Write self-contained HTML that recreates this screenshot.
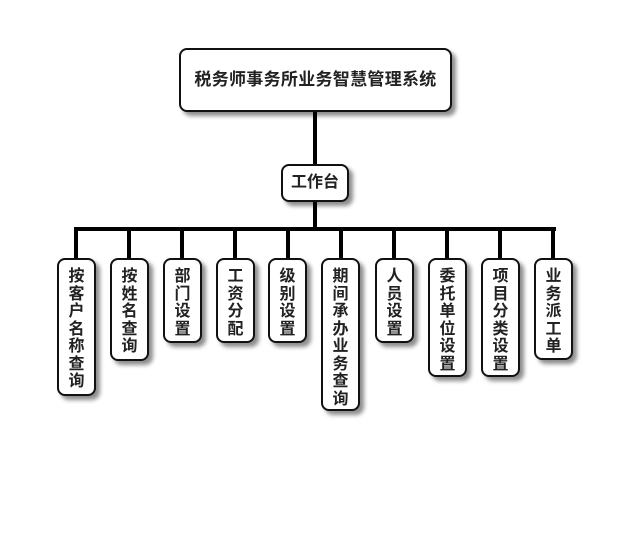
<!DOCTYPE html>
<html><head><meta charset="utf-8"><style>
body{margin:0;width:630px;height:560px;background:#fff;position:relative;overflow:hidden;font-family:"Liberation Sans","Noto Sans CJK SC",sans-serif;font-weight:bold;color:#222}
.b{position:absolute;border:2px solid #111;border-radius:8px;background:#fff;box-shadow:4px 4px 4px rgba(0,0,0,.45);box-sizing:border-box;text-align:center}
.l{position:absolute;background:#000}
.v{width:39px;top:258px;font-size:16px;line-height:17.5px;padding-top:8px;word-break:break-all}
.v span{display:block;width:18px;margin:0 auto}
</style></head><body>
<div class="l" style="left:313px;top:112px;width:4px;height:52px"></div>
<div class="l" style="left:313px;top:202px;width:4px;height:27px"></div>
<div class="l" style="left:74px;top:227px;width:482px;height:4px"></div>
<div class="l" style="left:74px;top:227px;width:4px;height:31px"></div>
<div class="l" style="left:127px;top:227px;width:4px;height:31px"></div>
<div class="l" style="left:180px;top:227px;width:4px;height:31px"></div>
<div class="l" style="left:233px;top:227px;width:4px;height:31px"></div>
<div class="l" style="left:286px;top:227px;width:4px;height:31px"></div>
<div class="l" style="left:339px;top:227px;width:4px;height:31px"></div>
<div class="l" style="left:392px;top:227px;width:4px;height:31px"></div>
<div class="l" style="left:445px;top:227px;width:4px;height:31px"></div>
<div class="l" style="left:498px;top:227px;width:4px;height:31px"></div>
<div class="l" style="left:551px;top:227px;width:4px;height:31px"></div>
<div class="b" style="left:179px;top:48px;width:273px;height:64px;line-height:60px;font-size:17px;letter-spacing:0.3px">税务师事务所业务智慧管理系统</div>
<div class="b" style="left:281px;top:164px;width:68px;height:38px;line-height:34px;font-size:16px">工作台</div>
<div class="b v" style="left:57px;height:138px"><span>按客户名称查询</span></div>
<div class="b v" style="left:110px;height:103px"><span>按姓名查询</span></div>
<div class="b v" style="left:163px;height:85px"><span>部门设置</span></div>
<div class="b v" style="left:216px;height:85px"><span>工资分配</span></div>
<div class="b v" style="left:268px;height:85px"><span>级别设置</span></div>
<div class="b v" style="left:321px;height:153px"><span>期间承办业务查询</span></div>
<div class="b v" style="left:375px;height:85px"><span>人员设置</span></div>
<div class="b v" style="left:428px;height:119px"><span>委托单位设置</span></div>
<div class="b v" style="left:481px;height:119px"><span>项目分类设置</span></div>
<div class="b v" style="left:534px;height:102px"><span>业务派工单</span></div>
</body></html>
